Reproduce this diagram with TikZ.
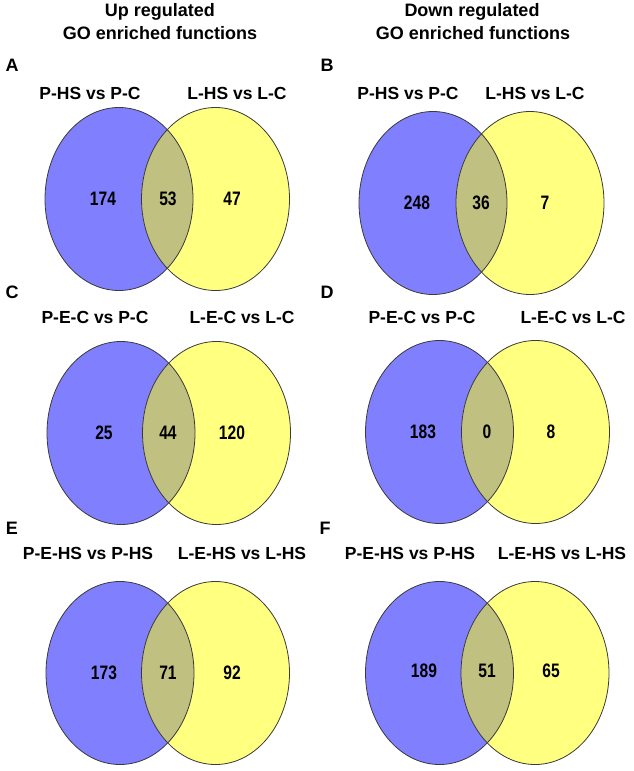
\documentclass[tikz,border=0pt]{standalone}
\usepackage{fontspec}
\setmainfont{Liberation Sans}
\newfontfamily\numfont{Liberation Sans}[FakeStretch=0.8]
\definecolor{vblue}{HTML}{8080FF}
\definecolor{vyellow}{HTML}{FFFF80}
\definecolor{vlens}{HTML}{C0C080}
\definecolor{vline}{HTML}{3A3A3A}
\tikzset{
  head/.style={font=\bfseries\fontsize{18}{21}\selectfont, align=center, inner sep=0pt},
  settitle/.style={font=\bfseries\fontsize{17.5}{20}\selectfont, inner sep=0pt},
  plabel/.style={font=\bfseries\fontsize{18}{20}\selectfont, inner sep=0pt},
  count/.style={font=\numfont\bfseries\fontsize{19.5}{22}\selectfont, inner sep=0pt},
  outline/.style={draw=vline, line width=0.8pt}
}
% #1 name, #2 blue x, #3 yellow x, #4 y
\newcommand{\vennpair}[4]{%
  \fill[vblue] (#2,#4) ellipse [x radius=74, y radius=91.5];
  \fill[vyellow] (#3,#4) ellipse [x radius=74, y radius=91.5];
  \begin{scope}
    \clip (#2,#4) ellipse [x radius=74, y radius=91.5];
    \fill[vlens] (#3,#4) ellipse [x radius=74, y radius=91.5];
  \end{scope}
  \draw[outline] (#2,#4) ellipse [x radius=74, y radius=91.5];
  \draw[outline] (#3,#4) ellipse [x radius=74, y radius=91.5];
}
\begin{document}
\begin{tikzpicture}[x=1pt, y=-1pt]
\useasboundingbox (0,0) rectangle (633,771);
\fill[white] (0,0) rectangle (633,771);

% headers
\node[head] (hup1) at (160,12) {Up regulated};
\node[head] (hup2) at (160,33) {GO enriched functions};
\node[head] (hdn1) at (472,12) {Down regulated};
\node[head] (hdn2) at (473,33) {GO enriched functions};

% Panel A
\vennpair{A}{119}{215.5}{199}
\node[plabel] (labA) at (12,65) {A};
\node[settitle] (tA1) at (90,93) {P-HS vs P-C};
\node[settitle] (tA2) at (237,93) {L-HS vs L-C};
\node[count] (nA1) at (103,199) {174};
\node[count] (nA2) at (168,199) {53};
\node[count] (nA3) at (232,199) {47};

% Panel B
\vennpair{B}{433}{530}{203}
\node[plabel] (labB) at (327,65) {B};
\node[settitle] (tB1) at (408,93) {P-HS vs P-C};
\node[settitle] (tB2) at (535,93) {L-HS vs L-C};
\node[count] (nB1) at (417,203) {248};
\node[count] (nB2) at (481,203) {36};
\node[count] (nB3) at (545,203) {7};

% Panel C
\vennpair{C}{121}{216.5}{433}
\node[plabel] (labC) at (12,292) {C};
\node[settitle] (tC1) at (95,317) {P-E-C vs P-C};
\node[settitle] (tC2) at (242,317) {L-E-C vs L-C};
\node[count] (nC1) at (104,433) {25};
\node[count] (nC2) at (168,433) {44};
\node[count] (nC3) at (232,433) {120};

% Panel D
\vennpair{D}{439.5}{535.5}{432}
\node[plabel] (labD) at (327,292) {D};
\node[settitle] (tD1) at (422,317) {P-E-C vs P-C};
\node[settitle] (tD2) at (573,317) {L-E-C vs L-C};
\node[count] (nD1) at (423,432) {183};
\node[count] (nD2) at (487,432) {0};
\node[count] (nD3) at (551,432) {8};

% Panel E
\vennpair{E}{120}{215.5}{673}
\node[plabel] (labE) at (12,528) {E};
\node[settitle] (tE1) at (88,553) {P-E-HS vs P-HS};
\node[settitle] (tE2) at (242,553) {L-E-HS vs L-HS};
\node[count] (nE1) at (104,673) {173};
\node[count] (nE2) at (168,673) {71};
\node[count] (nE3) at (232,673) {92};

% Panel F
\vennpair{F}{439.5}{535}{673}
\node[plabel] (labF) at (325,528) {F};
\node[settitle] (tF1) at (410,553) {P-E-HS vs P-HS};
\node[settitle] (tF2) at (562,553) {L-E-HS vs L-HS};
\node[count] (nF1) at (424,671) {189};
\node[count] (nF2) at (487,671) {51};
\node[count] (nF3) at (551,671) {65};
\end{tikzpicture}
\end{document}
